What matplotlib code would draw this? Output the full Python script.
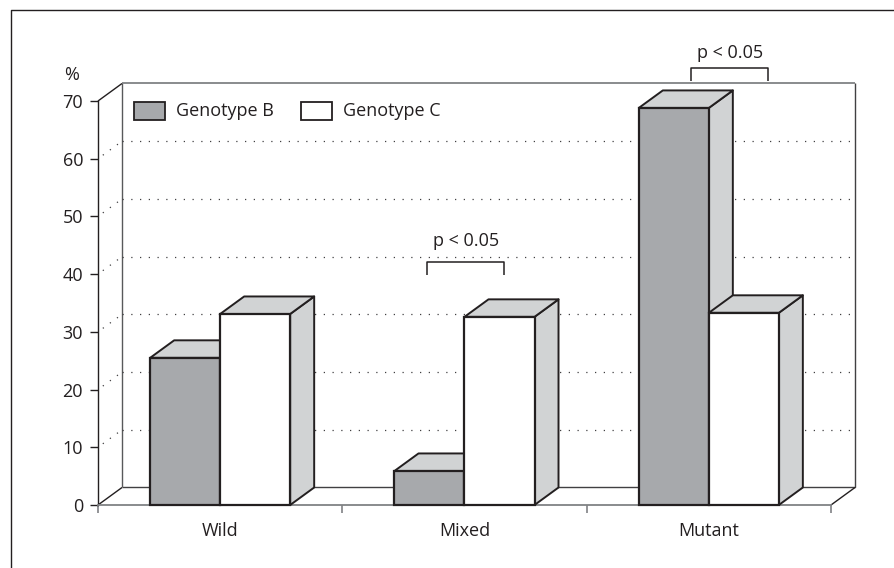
import numpy as np
import matplotlib
matplotlib.use("Agg")
import matplotlib.pyplot as plt
from matplotlib.lines import Line2D
from matplotlib.patches import Polygon, Rectangle

plt.rcParams['font.family'] = 'Open Sans'

categories = ['Wild', 'Mixed', 'Mutant']
genotype_b = [25.5, 5.9, 68.8]
genotype_c = [33.1, 32.6, 33.3]
y_ticks = [0, 10, 20, 30, 40, 50, 60, 70]
# bracket centre, bracket foot, label height
sig_labels = [(1.505, 39.9, 45.75, 'p < 0.05'), (2.585, 73.5, 78.3, 'p < 0.05')]

W, H = 894, 568
BAR_W = 70 / 244.3
DX = 24 / 244.3   # depth of the 3D look, in data units
DY = 17.5 / 5.77
DARK = '#231f20'
GREY = '#808285'
FILL_B = '#a7a9ac'
FILL_SIDE = '#d1d3d4'

fig = plt.figure(figsize=(W / 100, H / 100), dpi=100)
ax = fig.add_axes([98 / W, (H - 505) / H, 733 / W, 404 / H])
ax.set_xlim(0, 3)
ax.set_ylim(0, 70)
for s in ['top', 'right']:
    ax.spines[s].set_visible(False)
ax.spines['left'].set_color(DARK)
ax.spines['left'].set_linewidth(1.0)
ax.spines['bottom'].set_color(GREY)
ax.spines['bottom'].set_linewidth(1.3)


def ln(xs, ys, color=DARK, lw=1.0, ls='-', z=1):
    ax.plot(xs, ys, color=color, lw=lw, ls=ls, zorder=z, clip_on=False, solid_capstyle='butt')


# back wall and floor
ln([3 + DX, 3 + DX, DX], [70 + DY, DY, DY], color='#414042')
ln([DX, DX], [DY, 70 + DY], color='#58595b')
ln([DX, 3 + DX], [70 + DY, 70 + DY], color=GREY, lw=1.3)
ln([0, DX], [70, 70 + DY])
ln([0, DX], [0, DY])
ln([3, 3 + DX], [0, DY])

# dotted grid, back wall and left side
for v in y_ticks[1:-1]:
    ln([DX, 3 + DX], [v + DY, v + DY], lw=0.9, ls=(0, (1, 6)), color='#414042')
    ln([DX * 0.2, DX], [v + DY * 0.2, v + DY], lw=0.9, ls=(0, (1, 6)), color='#414042')


def bar3d(x0, val, fill, z):
    x1 = x0 + BAR_W
    side = [(x1, 0), (x1 + DX, DY), (x1 + DX, val + DY), (x1, val)]
    top = [(x0, val), (x0 + DX, val + DY), (x1 + DX, val + DY), (x1, val)]
    ax.add_patch(Polygon(side, fc=FILL_SIDE, ec=DARK, lw=1.4, zorder=z, clip_on=False, joinstyle='round'))
    ax.add_patch(Polygon(top, fc=FILL_SIDE, ec=DARK, lw=1.4, zorder=z, clip_on=False, joinstyle='round'))
    ax.add_patch(Rectangle((x0, 0), BAR_W, val, fc=fill, ec=DARK, lw=1.6, zorder=z, clip_on=False))


for i in range(len(categories)):
    centre = i + 0.5
    bar3d(centre - BAR_W, genotype_b[i], FILL_B, 3)
    bar3d(centre, genotype_c[i], 'white', 4)

# significance brackets
for centre, foot, text_y, label in sig_labels:
    ln([centre - 0.158, centre - 0.158, centre + 0.158, centre + 0.158],
       [foot, foot + 2.25, foot + 2.25, foot], lw=1.1, z=5)
    ax.text(centre, text_y, label, ha='center', va='center', fontsize=13, color=DARK)

# axes ticks and labels
ax.set_yticks(y_ticks)
ax.set_xticks([0, 1, 2, 3])
ax.set_xticklabels([])
ax.set_xticks([0.5, 1.5, 2.5], minor=True)
ax.set_xticklabels(categories, minor=True)
ax.tick_params(axis='y', length=5.8, width=1.0, color=DARK, labelsize=13, pad=5, labelcolor=DARK)
ax.tick_params(axis='x', which='major', length=5.8, width=1.2, color=GREY)
ax.tick_params(axis='x', which='minor', length=0, pad=12, labelsize=13, labelcolor=DARK)
ax.text(72, H - 75, '%', transform=None, ha='center', va='center', fontsize=13, color=DARK)

# legend, placed in pixels
for px, fill, name in [(134, FILL_B, 'Genotype B'), (301, 'white', 'Genotype C')]:
    fig.add_artist(Rectangle((px / W, (H - 120) / H), 31 / W, 18 / H, fc=fill, ec=DARK, lw=1.3,
                             transform=fig.transFigure))
    fig.text((px + 42) / W, (H - 111.5) / H, name, ha='left', va='center', fontsize=13, color=DARK)

# outer frame, open on the right and at the bottom
fig.add_artist(Line2D([11 / W, 11 / W, 1], [0, (H - 10) / H, (H - 10) / H], color=DARK, lw=1.0))

fig.savefig('out.png', dpi=100)
